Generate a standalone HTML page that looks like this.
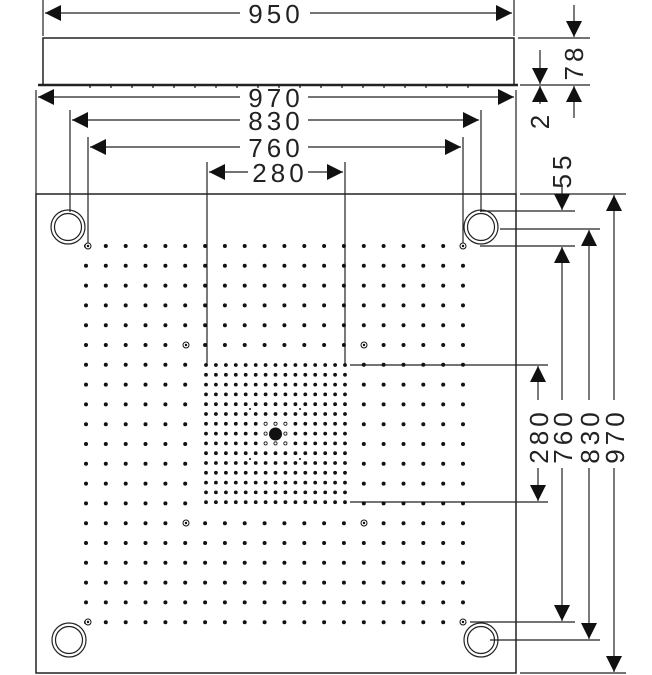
<!DOCTYPE html>
<html><head><meta charset="utf-8"><style>
html,body{margin:0;padding:0;background:#fff;}
svg{display:block}
text{font-family:"Liberation Sans",sans-serif;font-size:26px;fill:#222;letter-spacing:4px}
</style></head><body>
<svg id="s" width="652" height="675" viewBox="0 0 652 675" xmlns="http://www.w3.org/2000/svg">
<defs>
<marker id="a" viewBox="0 0 10 10" refX="10" refY="5" markerWidth="16" markerHeight="16" markerUnits="userSpaceOnUse" orient="auto-start-reverse"><path d="M0,0L10,5L0,10z" fill="#111"/></marker>
</defs>
<g stroke="#222" stroke-width="1.2" fill="none">
<rect x="43" y="38" width="471" height="47" stroke-width="1.5"/>
<line x1="38" y1="85" x2="518" y2="85" stroke-width="2.5"/>
<rect x="36" y="194" width="480" height="479" stroke-width="1.5"/>
<line x1="43" y1="0" x2="43" y2="36"/><line x1="514" y1="0" x2="514" y2="36"/>
<line x1="36" y1="90" x2="36" y2="194"/><line x1="516" y1="90" x2="516" y2="194"/>
<line x1="70" y1="110" x2="70" y2="212"/><line x1="481" y1="110" x2="481" y2="212"/>
<line x1="88" y1="137" x2="88" y2="244"/><line x1="463" y1="137" x2="463" y2="244"/>
<line x1="207" y1="162" x2="207" y2="365"/><line x1="345" y1="162" x2="345" y2="365"/>
<line x1="45" y1="13" x2="240" y2="13" marker-start="url(#a)"/><line x1="310" y1="13" x2="512" y2="13" marker-end="url(#a)"/>
<line x1="38" y1="97" x2="240" y2="97" marker-start="url(#a)"/><line x1="308" y1="97" x2="514" y2="97" marker-end="url(#a)"/>
<line x1="72" y1="120" x2="240" y2="120" marker-start="url(#a)"/><line x1="308" y1="120" x2="479" y2="120" marker-end="url(#a)"/>
<line x1="90" y1="147" x2="240" y2="147" marker-start="url(#a)"/><line x1="308" y1="147" x2="461" y2="147" marker-end="url(#a)"/>
<line x1="209" y1="172" x2="248" y2="172" marker-start="url(#a)"/><line x1="308" y1="172" x2="343" y2="172" marker-end="url(#a)"/>
<line x1="518" y1="38" x2="590" y2="38"/>
<line x1="520" y1="85" x2="590" y2="85"/>
<line x1="574" y1="5" x2="574" y2="37" marker-end="url(#a)"/>
<line x1="574" y1="118" x2="574" y2="86" marker-end="url(#a)"/>
<line x1="540" y1="50" x2="540" y2="84" marker-end="url(#a)"/>
<line x1="540" y1="104" x2="540" y2="86" marker-end="url(#a)"/>
<line x1="520" y1="194" x2="626" y2="194"/>
<line x1="480" y1="211" x2="575" y2="211"/>
<line x1="500" y1="229" x2="600" y2="229"/>
<line x1="480" y1="246" x2="575" y2="246"/>
<line x1="350" y1="365" x2="548" y2="365"/>
<line x1="350" y1="502" x2="548" y2="502"/>
<line x1="470" y1="622" x2="575" y2="622"/>
<line x1="490" y1="640" x2="600" y2="640"/>
<line x1="520" y1="673" x2="626" y2="673"/>
<line x1="562" y1="185" x2="562" y2="210" marker-end="url(#a)"/>
<line x1="562" y1="400" x2="562" y2="247" marker-end="url(#a)"/>
<line x1="562" y1="468" x2="562" y2="621" marker-end="url(#a)"/>
<line x1="589" y1="400" x2="589" y2="230" marker-end="url(#a)"/>
<line x1="589" y1="468" x2="589" y2="639" marker-end="url(#a)"/>
<line x1="614" y1="400" x2="614" y2="195" marker-end="url(#a)"/>
<line x1="614" y1="468" x2="614" y2="672" marker-end="url(#a)"/>
<line x1="538" y1="400" x2="538" y2="366" marker-end="url(#a)"/>
<line x1="538" y1="468" x2="538" y2="501" marker-end="url(#a)"/>
<circle cx="68" cy="227" r="17"/><circle cx="68" cy="227" r="13.5"/>
<circle cx="481" cy="227" r="17"/><circle cx="481" cy="227" r="13.5"/>
<circle cx="69" cy="640" r="17"/><circle cx="69" cy="640" r="13.5"/>
<circle cx="481" cy="640" r="17"/><circle cx="481" cy="640" r="13.5"/>
</g>
<text x="276" y="23" text-anchor="middle">950</text>
<text x="276" y="107" text-anchor="middle">970</text>
<text x="276" y="130" text-anchor="middle">830</text>
<text x="276" y="157" text-anchor="middle">760</text>
<text x="280" y="182" text-anchor="middle">280</text>
<text transform="translate(583,62) rotate(-90)" text-anchor="middle">78</text>
<text transform="translate(549,120) rotate(-90)" text-anchor="middle">2</text>
<text transform="translate(571,170) rotate(-90)" text-anchor="middle">55</text>
<text transform="translate(548,436) rotate(-90)" text-anchor="middle">280</text>
<text transform="translate(572,436) rotate(-90)" text-anchor="middle">760</text>
<text transform="translate(599,436) rotate(-90)" text-anchor="middle">830</text>
<text transform="translate(624,436) rotate(-90)" text-anchor="middle">970</text>
<g id="dots" fill="#111"></g>
</svg>
<script>
(function(){
var g=document.getElementById('dots'),h='';
var sp=377/19;
for(var i=0;i<20;i++)for(var j=0;j<20;j++){
 var x=86+i*sp,y=246+j*sp*0.998;
 if(x>203&&x<349&&y>361&&y<506)continue;
 h+='<circle cx="'+x.toFixed(1)+'" cy="'+y.toFixed(1)+'" r="2"/>';
}
for(var i=0;i<15;i++)for(var j=0;j<15;j++){
 var x=206+i*9.93,y=365+j*9.8;
 if(Math.abs(i-7)<=1&&Math.abs(j-7)<=1){
  if(i==7&&j==7)continue;
  h+='<circle cx="'+x.toFixed(1)+'" cy="'+y.toFixed(1)+'" r="1.6" fill="none" stroke="#111" stroke-width="0.8"/>';continue;}
 h+='<circle cx="'+x.toFixed(1)+'" cy="'+y.toFixed(1)+'" r="1.9"/>';
}
h+='<circle cx="275.5" cy="434" r="6.5"/>';
h+='<circle cx="250" cy="409" r="1"/><circle cx="300" cy="409" r="1"/><circle cx="250" cy="459" r="1"/><circle cx="300" cy="459" r="1"/>';
var m=[[88,246],[463,246],[186,345],[364,345],[186,523],[364,523],[88,622],[463,622]];
m.forEach(function(p){h+='<circle cx="'+p[0]+'" cy="'+p[1]+'" r="3" fill="#fff" stroke="#111" stroke-width="1"/><circle cx="'+p[0]+'" cy="'+p[1]+'" r="1.2"/>';});
for(var k=0;k<19;k++){h+='<circle cx="'+(90+k*21)+'" cy="87" r="0.9"/>';}
g.innerHTML=h;
})();
</script>
</body></html>
